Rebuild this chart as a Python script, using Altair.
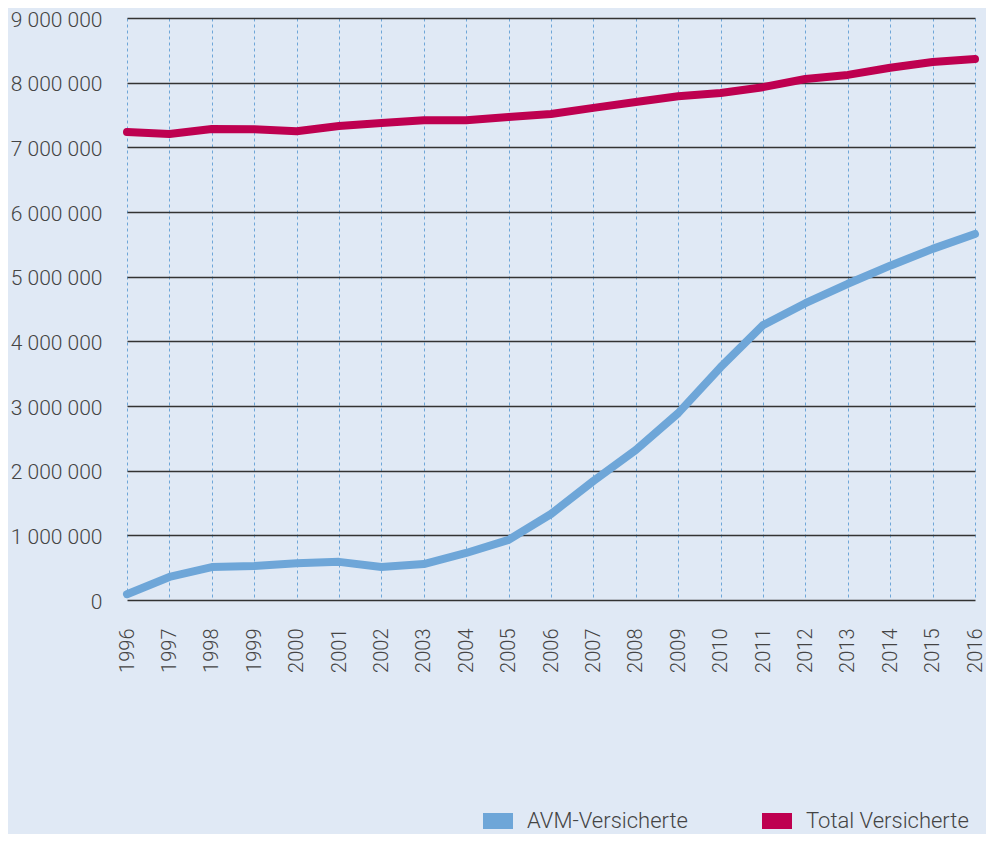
import altair as alt
import pandas as pd

years = list(range(1996, 2017))
avm = [90000, 356000, 510000, 525000, 570000, 590000, 510000, 556000, 727000, 930000,
       1330000, 1840000, 2320000, 2890000, 3600000, 4250000, 4590000, 4890000, 5170000,
       5430000, 5660000]
total = [7237000, 7206000, 7283000, 7280000, 7250000, 7330000, 7376000, 7420000, 7420000,
         7470000, 7515000, 7610000, 7700000, 7790000, 7840000, 7930000, 8056000, 8120000,
         8230000, 8320000, 8365000]
series = ["AVM-Versicherte", "Total Versicherte"]
colors = ["#6ea6d8", "#be0050"]
y_ticks = [0, 1000000, 2000000, 3000000, 4000000, 5000000, 6000000, 7000000, 8000000, 9000000]

df = pd.DataFrame(
    [{"Jahr": y, "Serie": series[0], "Wert": v} for y, v in zip(years, avm)]
    + [{"Jahr": y, "Serie": series[1], "Wert": v} for y, v in zip(years, total)]
)

FONT = "Roboto"
TXT = "#444444"
BG = "#e0e9f5"

bar_path = "M-1,0H1"

chart = alt.Chart(df).mark_line(strokeWidth=8, strokeCap="round", strokeJoin="round").encode(
    x=alt.X("Jahr:Q",
            scale=alt.Scale(domain=[1996, 2016], nice=False, zero=False),
            axis=alt.Axis(values=years, format="d", title=None, labelAngle=270,
                          labelAlign="right", labelBaseline="middle", labelPadding=28,
                          labelFontSize=20, labelFont=FONT, labelFontWeight=300,
                          labelColor=TXT, domain=False, ticks=False,
                          grid=True, gridColor="#6ea6d8", gridDash=[3, 3], gridWidth=1,
                          labelFlush=False, labelOverlap=False)),
    y=alt.Y("Wert:Q",
            scale=alt.Scale(domain=[0, 9000000], nice=False),
            axis=alt.Axis(values=y_ticks, title=None,
                          labelExpr="replace(replace(format(datum.value, ','), ',', ' '), ',', ' ')",
                          labelFontSize=21, labelFont=FONT, labelFontWeight=300,
                          labelColor=TXT, labelPadding=25, labelOffset=2,
                          domain=False, ticks=False,
                          grid=True, gridColor="#333333", gridWidth=1.5,
                          labelFlush=False, labelOverlap=False)),
    color=alt.Color("Serie:N",
                    scale=alt.Scale(domain=series, range=colors),
                    legend=alt.Legend(title=None, orient="none", direction="horizontal",
                                      legendX=348, legendY=780,
                                      symbolType=bar_path, symbolSize=900,
                                      symbolStrokeWidth=16,
                                      labelFont=FONT, labelFontSize=22, labelFontWeight=300,
                                      labelColor=TXT, labelOffset=6, columnPadding=42,
                                      labelLimit=300)),
    order=alt.Order("Serie:N"),
).properties(
    width=848, height=582,
    padding={"left": 119, "top": 10, "right": 11, "bottom": 234},
    autosize="none",
).configure(background=BG).configure_view(stroke=None)

chart.save("out.html", embed_options={"renderer": "svg", "actions": False})
